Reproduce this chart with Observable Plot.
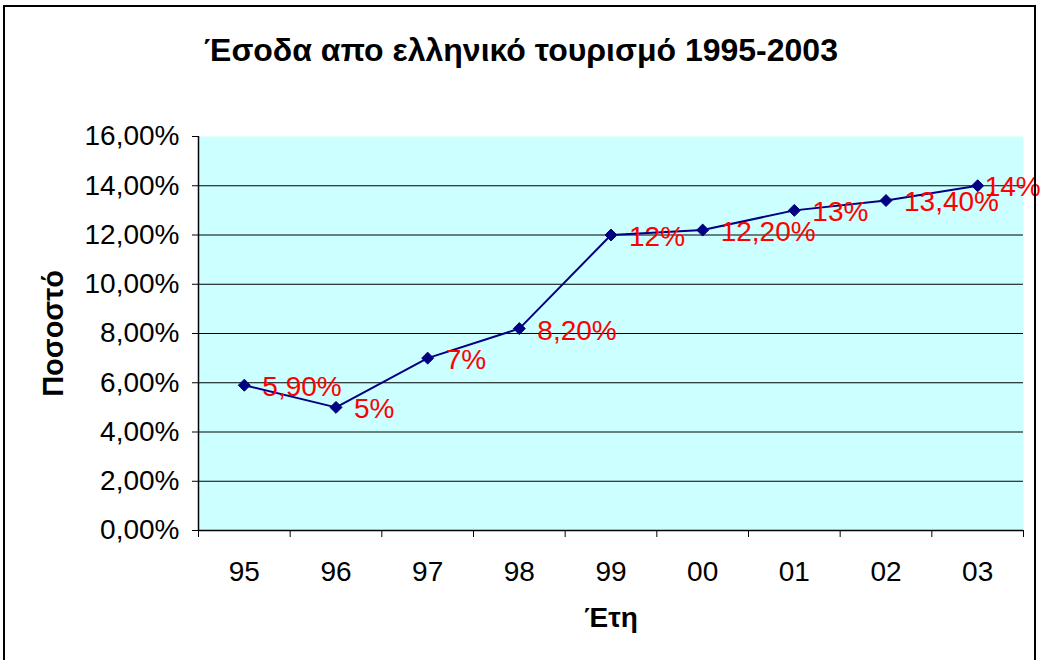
<!DOCTYPE html>
<html>
<head>
<meta charset="utf-8">
<script src="https://cdn.jsdelivr.net/npm/d3@7"></script>
<script src="https://cdn.jsdelivr.net/npm/@observablehq/plot@0.6"></script>
<style>
  html, body { margin: 0; padding: 0; background: #fff; overflow: hidden; }
  #wrap { position: relative; width: 1040px; height: 660px; }
  #border { position: absolute; left: 3px; top: 5px; width: 1033px; height: 700px; border: 2px solid #000; box-sizing: border-box; pointer-events: none; }
</style>
</head>
<body>
<div id="wrap"><div id="chart"></div><div id="border"></div></div>
<script>
const years = ["95", "96", "97", "98", "99", "00", "01", "02", "03"];
const values = [0.059, 0.05, 0.07, 0.082, 0.12, 0.122, 0.13, 0.134, 0.14];
const valueLabels = ["5,90%", "5%", "7%", "8,20%", "12%", "12,20%", "13%", "13,40%", "14%"];
const yTicks = [0, 0.02, 0.04, 0.06, 0.08, 0.10, 0.12, 0.14, 0.16];
const title = "Έσοδα απο ελληνικό τουρισμό 1995-2003";
const xTitle = "Έτη";
const yTitle = "Ποσοστό";

const data = years.map((year, i) => ({ pos: i + 0.5, year, value: values[i], label: valueLabels[i], last: i === years.length - 1 }));
const fmt = d => (d * 100).toFixed(2).replace(".", ",") + "%";
const font = "Liberation Sans, Arial, sans-serif";

const chart = Plot.plot({
  width: 1040,
  height: 660,
  marginLeft: 198,
  marginRight: 17,
  marginTop: 136,
  marginBottom: 130,
  style: { fontFamily: font, fontSize: "28px", color: "#000", background: "transparent" },
  x: { type: "linear", domain: [0, years.length] },
  y: { domain: [0, 0.16] },
  marks: [
    Plot.frame({ fill: "#ccffff", stroke: null }),
    Plot.ruleY(yTicks.filter(d => d > 0 && d < 0.16), { stroke: "#000", strokeWidth: 1 }),
    Plot.ruleY([0], { stroke: "#000", strokeWidth: 1.5 }),
    Plot.ruleX([0], { stroke: "#000", strokeWidth: 1.5 }),
    Plot.axisY({ ticks: yTicks, tickFormat: fmt, tickSize: 6, tickPadding: 13, fontSize: 28, label: null }),
    Plot.axisX({ ticks: d3.range(0, years.length + 1), tickFormat: () => "", tickSize: 7, label: null }),
    Plot.axisX({ ticks: years.map((_, i) => i + 0.5), tickFormat: d => years[Math.floor(d)], tickSize: 0, tickPadding: 31, fontSize: 28, label: null }),
    Plot.line(data, { x: "pos", y: "value", stroke: "#000080", strokeWidth: 2 }),
    Plot.dot(data, { x: "pos", y: "value", symbol: "diamond2", r: 5.4, fill: "#000080", stroke: "#000080", strokeWidth: 1 }),
    Plot.text(data.filter(d => !d.last), { x: "pos", y: "value", text: "label", textAnchor: "start", dx: 18, dy: 2, fill: "#ff0000", fontSize: 28 }),
    Plot.text(data.filter(d => d.last), { x: "pos", y: "value", text: "label", textAnchor: "start", dx: 7, dy: 1, fill: "#ff0000", fontSize: 28 }),
    Plot.text([title], { frameAnchor: "top", text: d => d, dx: -90, dy: -86, lineAnchor: "middle", fontSize: 32, fontWeight: "bold", fill: "#000" }),
    Plot.text([xTitle], { frameAnchor: "bottom", text: d => d, dy: 88, lineAnchor: "middle", fontSize: 28, fontWeight: "bold", fill: "#000" }),
    Plot.text([yTitle], { frameAnchor: "left", text: d => d, dx: -145, rotate: -90, textAnchor: "middle", lineAnchor: "middle", fontSize: 29, fontWeight: "bold", fill: "#000" })
  ]
});
document.getElementById("chart").appendChild(chart);
</script>
</body>
</html>
